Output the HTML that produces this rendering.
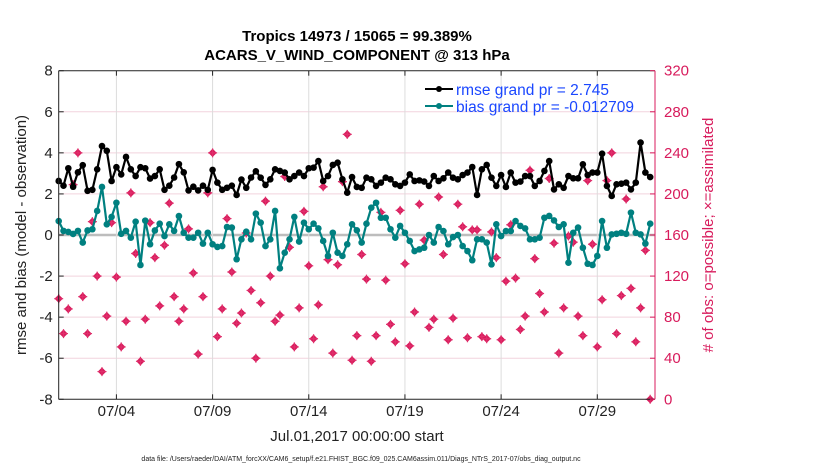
<!DOCTYPE html>
<html><head><meta charset="utf-8"><style>
body{margin:0;background:#fff;}
svg text{font-family:"Liberation Sans",sans-serif;}
</style></head><body>
<svg id="chart" width="830" height="470" xmlns="http://www.w3.org/2000/svg">
<rect width="830" height="470" fill="#fff"/>
<g id="grid"></g>
<g id="plot"></g>
<g id="axes"></g>
</svg>
<script>
const rmse=[2.63,2.4,3.25,2.35,3.05,3.4,2.15,2.2,3.2,4.33,4.1,2.63,3.3,2.95,3.8,3.2,2.87,3.3,3.25,2.75,2.87,3.2,2.2,2.4,2.8,3.45,3.05,2.17,2.35,2.17,2.4,2.2,3.17,2.55,2.2,2.3,2.4,1.95,2.7,2.3,2.8,3.1,
2.79,2.44,2.71,3.2,3.12,3.04,2.71,2.87,3.04,2.87,3.25,3.28,3.6,2.63,2.87,3.41,3.52,2.71,2.06,2.82,2.34,2.3,2.79,2.71,2.39,2.55,2.79,2.71,2.47,2.39,2.55,2.95,2.63,2.66,2.6,2.39,2.87,2.63,2.76,3.04,2.79,2.71,2.92,3.04,
3.31,1.95,3.2,3.41,2.79,2.39,2.92,2.34,3.04,2.55,2.6,2.87,2.87,2.39,2.63,3.12,3.6,2.22,2.47,2.3,2.87,2.76,2.76,3.44,2.92,3.04,3.04,3.96,2.39,1.9,2.47,2.5,2.55,2.22,2.55,4.5,3.04,2.82];
const bias=[0.68,0.2,0.15,0.05,0.2,-0.37,0.22,0.28,1.17,2.34,0.52,0.88,1.57,0.06,0.2,-0.13,0.65,-1.46,0.7,-0.45,0.22,0.55,-0.05,0.52,0.2,0.92,0.11,-0.13,-0.13,0.11,-0.42,0.11,-0.45,-0.58,-0.54,0.39,0.36,-1.18,-0.21,0.16,-0.21,1.04,
0.6,-0.54,-0.21,1.17,-1.62,-0.86,-0.21,0.88,-0.32,0.6,0.28,0.55,0.32,-0.29,-1.02,0.11,-0.86,-1.02,-0.45,0.52,0.23,-0.37,0.55,1.33,1.57,0.84,0.84,0.28,-0.13,0.44,0.11,-0.29,-0.78,-0.7,-0.62,0,-0.37,0.39,0.19,-0.45,-0.1,0,-0.54,-0.78,
-1.23,-0.21,-0.21,-0.37,-1.43,0.52,-0.05,0.19,0.19,0.68,0.44,0.32,-0.21,-0.21,-0.13,0.84,0.93,0.71,0.39,0.52,-1.35,0.11,0.36,-0.62,-1.4,-1.46,-1.02,0.68,-0.62,0.03,0.06,0.11,0.06,1.09,0.11,0.03,-0.42,0.55];
const nobs=[98,64,88,209,240,100,64,173,120,27,81,172,119,51,76,201,142,37,78,172,138,91,150,191,100,76,88,166,123,44,100,201,240,61,88,176,124,74,84,162,106,40,
94,193,120,76,82,217,148,51,89,183,130,59,92,207,136,45,131,212,258,38,62,141,117,37,62,182,116,73,56,184,132,52,85,190,155,70,78,197,141,58,79,190,168,60,
165,165,61,59,163,138,58,115,170,118,68,81,223,137,103,85,215,152,45,89,159,153,81,62,213,151,51,97,213,240,64,101,195,108,56,89,145,0];
const leftTicks=[-8,-6,-4,-2,0,2,4,6,8];
const rightTicks=[0,40,80,120,160,200,240,280,320];
const dateTicks=[3,8,13,18,23,28];
const dateLabels=["07/04","07/09","07/14","07/19","07/24","07/29"];
const L=58.7,R=655,T=70.7,B=399.3;
const xs=d=>L+(R-L)*d/31;
const yl=v=>B-(v+8)/16*(B-T);
const yr=v=>B-v/320*(B-T);
const NS="http://www.w3.org/2000/svg";
function mk(parent,tag,attrs,txt){const e=document.createElementNS(NS,tag);for(const k in attrs)e.setAttribute(k,attrs[k]);if(txt!==undefined)e.textContent=txt;document.getElementById(parent).appendChild(e);return e;}
leftTicks.forEach(v=>{if(v===-8||v===8)return;const g=mk('grid','line',{x1:L,x2:R,y1:yl(v),y2:yl(v),stroke:v===0?'#bdbdbd':'#f2d3de','stroke-width':v===0?2.5:1});

});
dateTicks.forEach(d=>{const g=mk('grid','line',{x1:xs(d),x2:xs(d),y1:T,y2:B,stroke:'#dcdcdc','stroke-width':1});

});
nobs.forEach((v,i)=>{const x=xs(i*0.25),y=yr(v);const g=mk('plot','g',{});


const p=document.createElementNS(NS,'path');p.setAttribute('d',`M${x},${y-4.2}L${x+4.2},${y}L${x},${y+4.2}L${x-4.2},${y}Z`);p.setAttribute('fill','#d81b5c');g.appendChild(p);
const c=document.createElementNS(NS,'path');c.setAttribute('d',`M${x-4.5},${y}H${x+4.5}M${x},${y-4.5}V${y+4.5}`);c.setAttribute('stroke','#e0306c');c.setAttribute('stroke-width','1.2');g.appendChild(c);});
function series(arr,color,name){const pts=arr.map((v,i)=>xs(i*0.25).toFixed(1)+','+yl(v).toFixed(1)).join(' ');
const pl=mk('plot','polyline',{points:pts,fill:'none',stroke:color,'stroke-width':2.2,'stroke-linejoin':'round'});


arr.forEach((v,i)=>{const c=mk('plot','circle',{cx:xs(i*0.25),cy:yl(v),r:3.3,fill:color});

});}
series(bias,'#008080','bias');
series(rmse,'#000','rmse');
mk('axes','line',{x1:L,x2:R,y1:T,y2:T,stroke:'#222','stroke-width':1});
mk('axes','line',{x1:L,x2:R,y1:B,y2:B,stroke:'#222','stroke-width':1});
mk('axes','line',{x1:L,x2:L,y1:T,y2:B,stroke:'#222','stroke-width':1});
mk('axes','line',{x1:R,x2:R,y1:T,y2:B,stroke:'#d81b5c','stroke-width':1});
leftTicks.forEach(v=>{mk('axes','line',{x1:L,x2:L+5,y1:yl(v),y2:yl(v),stroke:'#222'});
const t=mk('axes','text',{x:L-6,y:yl(v)+5,'text-anchor':'end','font-size':15,fill:'#222'},String(v));

});
rightTicks.forEach(v=>{mk('axes','line',{x1:R-5,x2:R,y1:yr(v),y2:yr(v),stroke:'#d81b5c'});
const t=mk('axes','text',{x:R+9,y:yr(v)+5,'font-size':15,fill:'#d81b5c'},String(v));

});
dateTicks.forEach((d,i)=>{mk('axes','line',{x1:xs(d),x2:xs(d),y1:B-5,y2:B,stroke:'#222'});mk('axes','line',{x1:xs(d),x2:xs(d),y1:T,y2:T+5,stroke:'#222'});
const t=mk('axes','text',{x:xs(d),y:416,'text-anchor':'middle','font-size':15,fill:'#222'},dateLabels[i]);

});
</script>
<svg style="position:absolute;left:0;top:0" width="830" height="470" xmlns="http://www.w3.org/2000/svg">
<text x="357" y="41" text-anchor="middle" font-size="15" font-weight="bold" font-family="Liberation Sans, sans-serif">Tropics 14973 / 15065 = 99.389%</text>
<text x="357" y="60" text-anchor="middle" font-size="15" font-weight="bold" font-family="Liberation Sans, sans-serif">ACARS_V_WIND_COMPONENT @ 313 hPa</text>
<text transform="translate(26,235) rotate(-90)" text-anchor="middle" font-size="15" fill="#222" font-family="Liberation Sans, sans-serif">rmse and bias (model - observation)</text>
<text transform="translate(713,235) rotate(-90)" text-anchor="middle" font-size="15" fill="#d81b5c" font-family="Liberation Sans, sans-serif"># of obs: o=possible; ×=assimilated</text>
<text x="357" y="441" text-anchor="middle" font-size="15" fill="#222" font-family="Liberation Sans, sans-serif">Jul.01,2017 00:00:00 start</text>
<text x="361" y="461" text-anchor="middle" font-size="7" fill="#222" font-family="Liberation Sans, sans-serif">data file: /Users/raeder/DAI/ATM_forcXX/CAM6_setup/f.e21.FHIST_BGC.f09_025.CAM6assim.011/Diags_NTrS_2017-07/obs_diag_output.nc</text>
<g>
<g><line x1="425" x2="453" y1="89" y2="89" stroke="#000" stroke-width="2"/><circle cx="439" cy="89" r="3" fill="#000"/><text x="456" y="95" font-size="15.5" fill="#1a47ff" font-family="Liberation Sans, sans-serif">rmse grand pr = 2.745</text></g>
<g><line x1="425" x2="453" y1="106" y2="106" stroke="#008080" stroke-width="2"/><circle cx="439" cy="106" r="3" fill="#008080"/><text x="456" y="112" font-size="15.5" fill="#1a47ff" font-family="Liberation Sans, sans-serif">bias grand pr = -0.012709</text></g>
</g>
</svg>
</body></html>
